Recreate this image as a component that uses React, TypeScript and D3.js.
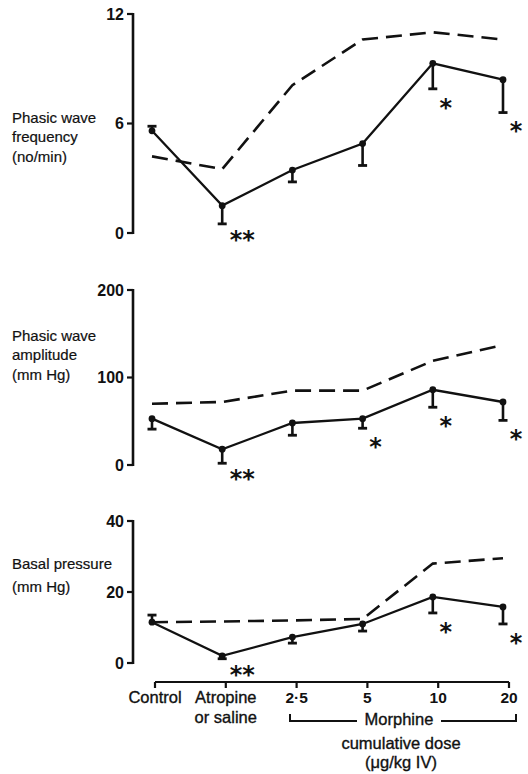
import React from "react";
import * as d3 from "d3";

const categories = ["Control", "Atropine", "2·5", "5", "10", "20"];
const categorySub = ["", "or saline", "", "", "", ""];

const freqMorphine = [5.6, 1.5, 3.45, 4.9, 9.3, 8.4];
const freqErrEnd = [5.85, 0.5, 2.8, 3.7, 7.9, 6.6];
const freqSaline = [4.2, 3.5, 8.1, 10.6, 11.0, 10.6];
const freqStars = ["", "**", "", "", "*", "*"];
const freqTicks = [0, 6, 12];

const ampMorphine = [53, 18, 48, 53, 86, 72];
const ampErrEnd = [41, 2, 34, 42, 66, 51];
const ampSaline = [70, 72, 85, 85, 119, 137];
const ampStars = ["", "**", "", "*", "*", "*"];
const ampTicks = [0, 100, 200];

const basalMorphine = [11.5, 2, 7.3, 11, 18.6, 15.8];
const basalErrEnd = [13.5, 1.2, 5.6, 9, 14.1, 11];
const basalSaline = [11.5, 11.7, 12, 12.4, 28, 29.5];
const basalStars = ["", "**", "", "", "*", "*"];
const basalTicks = [0, 20, 40];

const FONT = "'Liberation Sans', Arial, Helvetica, sans-serif";
const INK = "#111";

const xData = d3.scalePoint<number>().domain(d3.range(6)).range([152, 503]);
const xAxis = d3.scalePoint<number>().domain(d3.range(6)).range([155, 509]);

type PanelProps = {
  mean: number[];
  errEnd: number[];
  saline: number[];
  stars: string[];
  ticks: number[];
  domain: [number, number];
  range: [number, number];
  labels: string[];
  labelY: number[];
};

function Panel({ mean, errEnd, saline, stars, ticks, domain, range, labels, labelY }: PanelProps) {
  const y = d3.scaleLinear().domain(domain).range(range);
  const line = d3
    .line<number>()
    .x((_, i) => xData(i) as number)
    .y((d) => y(d));
  const axisX = 133;
  return (
    <g>
      {labels.map((t, i) => (
        <text key={t} x={12} y={labelY[i]} fontSize={15} fontFamily={FONT} fill={INK} stroke={INK} strokeWidth={0.2}>
          {t}
        </text>
      ))}
      <line x1={axisX} x2={axisX} y1={y(domain[0]) + 1} y2={y(domain[1]) - 1} stroke={INK} strokeWidth={2.6} />
      {ticks.map((t) => (
        <g key={t}>
          <line x1={axisX - 6} x2={axisX} y1={y(t)} y2={y(t)} stroke={INK} strokeWidth={2.2} />
          <text
            x={axisX - 9}
            y={y(t)}
            dy="0.36em"
            textAnchor="end"
            fontSize={16}
            fontWeight="bold"
            fontFamily={FONT}
            fill={INK}
          >
            {t}
          </text>
        </g>
      ))}
      <path d={line(saline) || ""} fill="none" stroke={INK} strokeWidth={2.6} strokeDasharray="16,8" />
      <path d={line(mean) || ""} fill="none" stroke={INK} strokeWidth={2.3} />
      {mean.map((m, i) => (
        <g key={i}>
          <line x1={xData(i)} x2={xData(i)} y1={y(m)} y2={y(errEnd[i])} stroke={INK} strokeWidth={2.6} />
          <line
            x1={(xData(i) as number) - 4.5}
            x2={(xData(i) as number) + 4.5}
            y1={y(errEnd[i])}
            y2={y(errEnd[i])}
            stroke={INK}
            strokeWidth={2.8}
          />
          <circle cx={xData(i)} cy={y(m)} r={3.4} fill={INK} />
          {stars[i] && (
            <text
              x={(xData(i) as number) + (stars[i].length > 1 ? 20 : 13)}
              y={y(Math.min(errEnd[i], m)) + (stars[i].length > 1 ? 9 : 12)}
              dy="0.62em"
              textAnchor="middle"
              fontSize={24}
              fontWeight="bold"
              fontFamily="'DejaVu Sans', sans-serif"
              fill={INK}
            >
              {stars[i]}
            </text>
          )}
        </g>
      ))}
    </g>
  );
}

export default function App() {
  const axisY = 682;
  const bx0 = 290;
  const bx1 = 516;
  const by = 721;
  return (
    <svg
      width={528}
      height={774}
      viewBox="0 0 528 774"
      style={{ position: "absolute", left: 0, top: 0, background: "#fff" }}
    >
      <rect x={0} y={0} width={528} height={774} fill="#fff" />
      <Panel
        mean={freqMorphine}
        errEnd={freqErrEnd}
        saline={freqSaline}
        stars={freqStars}
        ticks={freqTicks}
        domain={[0, 12]}
        range={[233, 14]}
        labels={["Phasic wave", "frequency", "(no/min)"]}
        labelY={[123, 142, 162]}
      />
      <Panel
        mean={ampMorphine}
        errEnd={ampErrEnd}
        saline={ampSaline}
        stars={ampStars}
        ticks={ampTicks}
        domain={[0, 200]}
        range={[465, 290]}
        labels={["Phasic wave", "amplitude", "(mm Hg)"]}
        labelY={[341, 360, 380]}
      />
      <Panel
        mean={basalMorphine}
        errEnd={basalErrEnd}
        saline={basalSaline}
        stars={basalStars}
        ticks={basalTicks}
        domain={[0, 40]}
        range={[663, 521]}
        labels={["Basal pressure", "(mm Hg)"]}
        labelY={[569, 592]}
      />
      <line x1={xAxis(0)} x2={xAxis(5)} y1={axisY} y2={axisY} stroke={INK} strokeWidth={2.2} />
      {categories.map((c, i) => (
        <g key={c}>
          <line x1={xAxis(i)} x2={xAxis(i)} y1={axisY} y2={axisY + 6} stroke={INK} strokeWidth={2.2} />
          <text
            x={xAxis(i)}
            y={703}
            textAnchor="middle"
            fontSize={i < 2 ? 16.5 : 15.5}
            fontWeight={i < 2 ? "normal" : "bold"}
            fontFamily={FONT}
            fill={INK}
            stroke={i < 2 ? INK : "none"}
            strokeWidth={0.35}
          >
            {c}
          </text>
          {categorySub[i] && (
            <text x={xAxis(i)} y={723} textAnchor="middle" fontSize={16.5} fontFamily={FONT} fill={INK} stroke={INK} strokeWidth={0.35}>
              {categorySub[i]}
            </text>
          )}
        </g>
      ))}
      <path d={`M${bx0},${by - 7}V${by}H357`} fill="none" stroke={INK} strokeWidth={2} />
      <path d={`M441,${by}H${bx1}V${by - 7}`} fill="none" stroke={INK} strokeWidth={2} />
      <text x={399} y={725} textAnchor="middle" fontSize={16.5} fontFamily={FONT} fill={INK} stroke={INK} strokeWidth={0.35}>
        Morphine
      </text>
      <text x={401} y={749} textAnchor="middle" fontSize={16.5} fontFamily={FONT} fill={INK} stroke={INK} strokeWidth={0.35}>
        cumulative dose
      </text>
      <text x={401} y={768} textAnchor="middle" fontSize={16.5} fontFamily={FONT} fill={INK} stroke={INK} strokeWidth={0.35}>
        (μg/kg IV)
      </text>
    </svg>
  );
}
